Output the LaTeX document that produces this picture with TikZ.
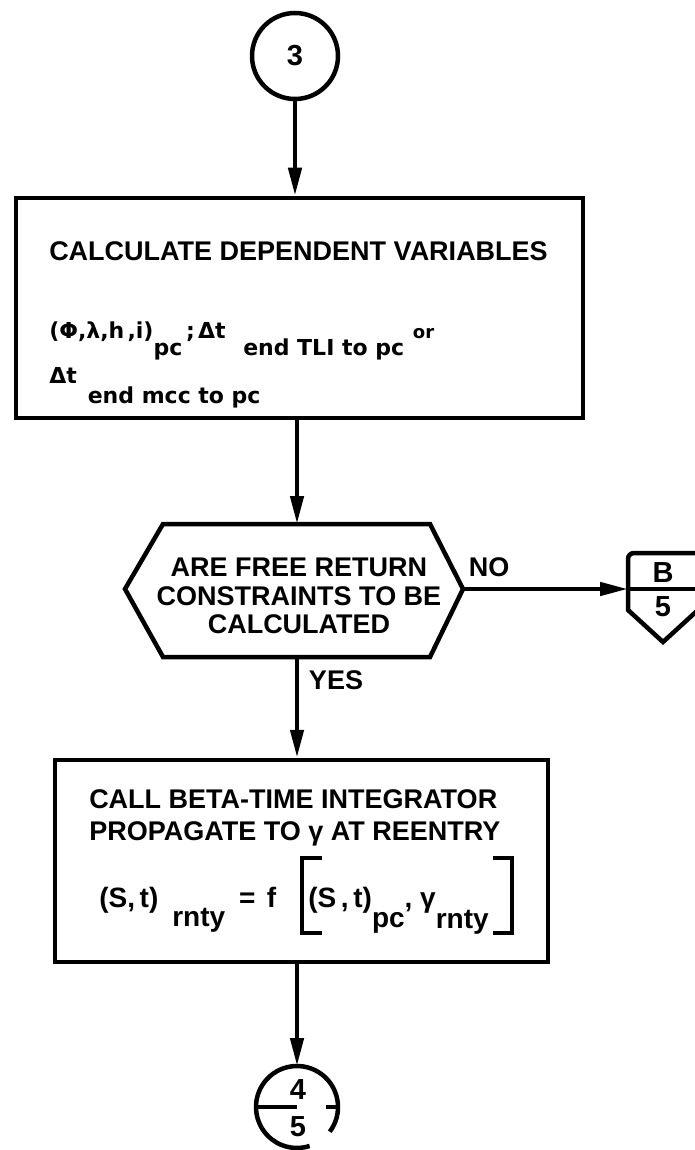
\documentclass[tikz,border=0pt]{standalone}
\usepackage{fontspec}
\setmainfont{Liberation Sans}
\newfontfamily\widefont{DejaVu Sans}
\usetikzlibrary{arrows.meta,calc}
\newcommand{\lowered}[2][17pt]{\raisebox{-#1}{#2}}

\begin{document}
\begin{tikzpicture}[x=1pt, y=-1pt, line width=4.5pt,
    head/.style={font=\fontsize{27}{28.5}\selectfont\bfseries, inner sep=0pt},
    body/.style={font=\widefont\fontsize{22}{26}\selectfont\bfseries, inner sep=0pt},
    formula/.style={font=\fontsize{28}{30}\selectfont\bfseries, inner sep=0pt},
    digit/.style={font=\fontsize{29}{30}\selectfont\bfseries, inner sep=0pt},
    procbox/.style={draw, rectangle, inner sep=0pt},
    connector/.style={draw, circle, inner sep=0pt, minimum size=#1},
    flow/.style={-{Triangle[length=28pt,width=13pt]}}]
  \useasboundingbox (0,0) rectangle (694,1150);
  % Entry connector
  \node[connector=86pt, digit] (c3) at (295,56) {3};
  % Dependent variables box
  \node[procbox, minimum width=567pt, minimum height=220pt] (calc) at (299.5,308) {};
  \node[head, anchor=base west] (calctitle) at (47,261) {CALCULATE DEPENDENT VARIABLES};
  \node[body, anchor=base west] (calcvars) at (47,338)
    {(Φ,λ,h\hspace{0.15em},i)\lowered{pc}\,;\hspace{0.15em}Δt\hspace{0.8em}\lowered{end TLI to pc}\hspace{0.4em}{\fontsize{18}{18}\selectfont or}};
  \node[body, anchor=base west] (calcdt) at (47,383) {Δt\hspace{0.5em}\lowered[20pt]{end mcc to pc}};
  % Decision
  \coordinate (dec-w) at (125,589);
  \coordinate (dec-nw) at (163,524);
  \coordinate (dec-n) at (297,524);
  \coordinate (dec-ne) at (430,524);
  \coordinate (dec-e) at (463,589);
  \coordinate (dec-se) at (430,657);
  \coordinate (dec-s) at (297,657);
  \coordinate (dec-sw) at (163,657);
  \draw (dec-w) -- (dec-nw) -- (dec-ne) -- (dec-e) -- (dec-se) -- (dec-sw) -- cycle;
  \node[head, align=center] (dec) at (299,596) {ARE FREE RETURN\\CONSTRAINTS TO BE\\CALCULATED};
  \node[head] (nolbl) at (489,567) {NO};
  \node[head] (yeslbl) at (336,680) {YES};
  % Off-page connector B/5
  \coordinate (offB) at (628,589);
  \draw (698,610) -- (698,553) [rounded corners=6pt]-- (628,553) [sharp corners]-- (628,610) -- (663,642) -- cycle;
  \draw (offB) -- (698,589);
  \node[digit] (offtop) at (663,573) {B};
  \node[digit] (offbot) at (663,607) {5};
  % Propagation box
  \node[procbox, minimum width=493pt, minimum height=202pt] (prop) at (301.5,861) {};
  \node[head, anchor=base west] (proptitle) at (87,808) {CALL BETA-TIME INTEGRATOR};
  \node[head, anchor=base west] (propline) at (87,840) {PROPAGATE TO γ AT REENTRY};
  \node[formula, anchor=base west] (lhs) at (97,907)
    {(S,\,t)\hspace{0.5em}\lowered[19pt]{rnty}\hspace{0.5em}=\hspace{0.4em}f};
  \node[formula, anchor=base west] (arg) at (306,907)
    {(S\,,\,t)\lowered[20pt]{pc}, γ\lowered[21pt]{rnty}};
  \draw[line width=4pt] (322,858) -- (302,858) -- (302,933) -- (322,933);
  \draw[line width=4pt] (493,858) -- (512,858) -- (512,933) -- (493,933);
  % Exit connector 4/5
  \node[circle, minimum size=82pt, inner sep=0pt, outer sep=0pt] (c45) at (297,1107) {};
  \draw (c45.-37) arc[start angle=-37, end angle=288, radius=41pt];
  \draw (c45.west) -- (c45.center);
  \draw (c45.east) -- ++(-12,0);
  \node[digit] (four) at (298,1090) {4};
  \node[digit] (five) at (298,1127) {5};
  % Flow lines
  \draw[flow] (c3.south) -- (c3.south |- calc.north);
  \draw[flow] (calc.south -| dec-n) -- (dec-n);
  \draw[flow] (dec-e) -- (offB);
  \draw[flow] (dec-s) -- (dec-s |- prop.north);
  \draw[flow] (prop.south -| c45.north) -- (c45.north);
\end{tikzpicture}
\end{document}
